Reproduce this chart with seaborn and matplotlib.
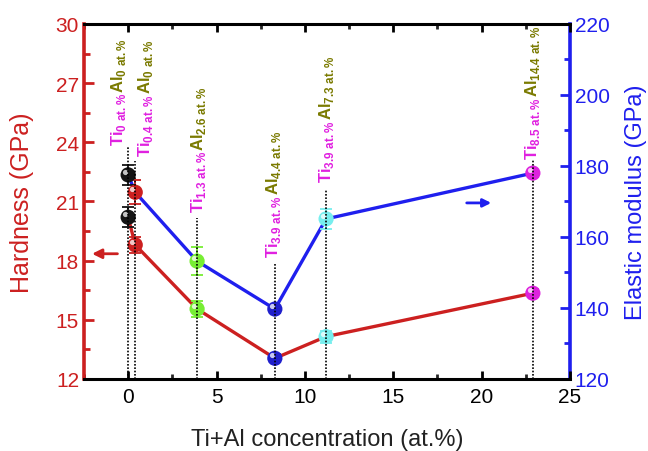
import numpy as np
import pandas as pd
import matplotlib
matplotlib.use("Agg")
import matplotlib.pyplot as plt
import seaborn as sns
from matplotlib.ticker import MultipleLocator
from matplotlib.transforms import ScaledTranslation

# ---------------- data ----------------
conc = [0.0, 0.4, 3.9, 8.3, 11.2, 22.9]            # Ti+Al concentration (at.%)
hardness = [20.2, 18.8, 15.55, 13.05, 14.15, 16.35]  # GPa
hardness_err = [0.5, 0.4, 0.4, 0.2, 0.3, 0.2]
modulus = [177.5, 172.6, 153.2, 139.7, 165.1, 178.0]  # GPa
modulus_err = [2.8, 3.4, 4.0, 1.0, 2.8, 1.0]
ti_lab = ["0", "0.4", "1.3", "3.9", "3.9", "8.5"]
al_lab = ["0", "0", "2.6", "4.4", "7.3", "14.4"]
samples = ["S0", "S1", "S2", "S3", "S4", "S5"]

# label / guide placement (layout)
label_x = [-0.55, 1.0, 4.0, 8.25, 11.2, 22.9]
label_y = [23.85, 23.3, 20.45, 18.2, 22.0, 23.15]
guide_top = [23.76, 23.05, 20.16, 17.83, 21.63, 23.1]

RED = "#cc2020"
BLUE = "#1f1fee"
MAG = "#e020e0"
OLIVE = "#7a7a00"
point_colors = ["#151515", "#cc2020", "#77ee33", "#2020cc", "#77eeee", "#dd22dd"]

sns.set_style("ticks")
plt.rcParams["font.family"] = ["Liberation Sans", "DejaVu Sans"]
plt.rcParams["mathtext.fontset"] = "custom"
plt.rcParams["mathtext.rm"] = "Liberation Sans"
plt.rcParams["mathtext.bf"] = "Liberation Sans:bold"

fig = plt.figure(figsize=(6.48, 4.52), dpi=100)
ax = fig.add_axes([0.1296, 0.1593, 0.75, 0.7854])
ax2 = ax.twinx()
ax.set_zorder(2)
ax.patch.set_visible(False)
ax2.set_zorder(1)

df = pd.DataFrame({"conc": conc, "H": hardness, "E": modulus, "s": samples})

# lines
sns.lineplot(data=df, x="conc", y="H", ax=ax, color=RED, lw=2.4, zorder=2)
sns.lineplot(data=df, x="conc", y="E", ax=ax2, color=BLUE, lw=2.4, zorder=2)

# error bars
for xi, h, he, e, ee, c in zip(conc, hardness, hardness_err, modulus, modulus_err, point_colors):
    ax.errorbar([xi], [h], yerr=[he], fmt="none", ecolor=c, elinewidth=1.3, capsize=4, capthick=1.3, zorder=3)
    ax2.errorbar([xi], [e], yerr=[ee], fmt="none", ecolor=c, elinewidth=1.3, capsize=4, capthick=1.3, zorder=3)

# markers
sns.scatterplot(data=df, x="conc", y="H", hue="s", palette=point_colors, s=120,
                edgecolor="none", legend=False, ax=ax, zorder=4)
sns.scatterplot(data=df, x="conc", y="E", hue="s", palette=point_colors, s=120,
                edgecolor="none", legend=False, ax=ax2, zorder=4)
off = ScaledTranslation(-2.2 / 72, 2.2 / 72, fig.dpi_scale_trans)
ax.scatter(conc, hardness, s=14, c="white", alpha=0.75, lw=0, transform=ax.transData + off, zorder=5)
ax2.scatter(conc, modulus, s=14, c="white", alpha=0.75, lw=0, transform=ax2.transData + off, zorder=5)

# dotted guides
ax.vlines(conc, 12, guide_top, colors="black", linestyles=(0, (1, 1)), lw=1.2, zorder=6)

# composition labels
for lx, ly, t, a in zip(label_x, label_y, ti_lab, al_lab):
    tt = ax.text(lx, ly, r"$\mathbf{Ti}_{\mathbf{" + t + r"\ at.\%}}$", rotation=90,
                 ha="center", va="bottom", color=MAG, fontsize=12, zorder=7)
    ax.annotate(r"$\mathbf{Al}_{\mathbf{" + a + r"\ at.\%}}$", xy=(0.5, 1.0), xycoords=tt,
                rotation=90, ha="center", va="bottom", color=OLIVE, fontsize=12, zorder=7)

# arrows
ax.annotate("", xy=(-2.2, 18.35), xytext=(-0.45, 18.35),
            arrowprops=dict(arrowstyle="-|>", color=RED, lw=2.0, mutation_scale=14))
ax2.annotate("", xy=(20.7, 169.6), xytext=(19.0, 169.6),
             arrowprops=dict(arrowstyle="-|>", color=BLUE, lw=2.0, mutation_scale=12))

# axes limits and ticks
ax.set_xlim(-2.5, 25)
ax.set_ylim(12, 30)
ax2.set_ylim(120, 220)
ax.xaxis.set_major_locator(MultipleLocator(5))
ax.xaxis.set_minor_locator(MultipleLocator(2.5))
ax.yaxis.set_major_locator(MultipleLocator(3))
ax.yaxis.set_minor_locator(MultipleLocator(1.5))
ax2.yaxis.set_major_locator(MultipleLocator(20))
ax2.yaxis.set_minor_locator(MultipleLocator(10))

ax.tick_params(axis="x", which="major", direction="in", length=6, width=2, top=True,
               labelsize=15, colors="black", pad=6)
ax.tick_params(axis="x", which="minor", direction="in", length=3.5, width=2, top=True)
ax.tick_params(axis="y", which="major", direction="in", length=7, width=2, labelsize=15,
               colors=RED, right=False)
ax.tick_params(axis="y", which="minor", direction="in", length=4, width=2, colors=RED, right=False)
ax2.tick_params(axis="y", which="major", direction="in", length=7, width=2, labelsize=15, colors=BLUE)
ax2.tick_params(axis="y", which="minor", direction="in", length=4, width=2, colors=BLUE)

for s in ["top", "bottom"]:
    ax.spines[s].set_linewidth(2.2)
    ax.spines[s].set_color("black")
    ax2.spines[s].set_visible(False)
ax.spines["left"].set_color(RED)
ax.spines["left"].set_linewidth(2.6)
ax.spines["right"].set_visible(False)
ax2.spines["left"].set_visible(False)
ax2.spines["right"].set_color(BLUE)
ax2.spines["right"].set_linewidth(2.6)

ax.set_xlabel("Ti+Al concentration (at.%)", fontsize=17, color="#222222")
ax.set_ylabel("Hardness (GPa)", fontsize=18, color=RED)
ax2.set_ylabel("Elastic modulus (GPa)", fontsize=17, color=BLUE)
ax.xaxis.set_label_coords(0.5, -0.138)
ax.yaxis.set_label_coords(-0.103, 0.5)
ax2.yaxis.set_label_coords(1.113, 0.5)

fig.savefig("out.png", dpi=100)
